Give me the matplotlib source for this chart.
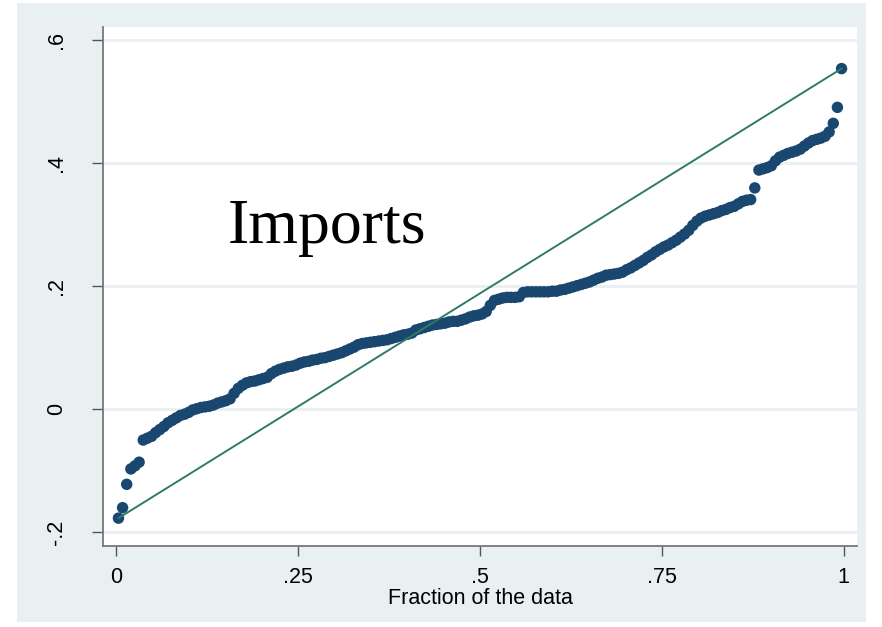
import numpy as np
import matplotlib
matplotlib.use('Agg')
import matplotlib.pyplot as plt
from matplotlib.patches import Rectangle

#Sorted import values
imports = [
    -0.177, -0.160, -0.122, -0.097, -0.092, -0.086, -0.050, -0.047, -0.044, -0.038,
    -0.033, -0.028, -0.022, -0.018, -0.014, -0.010, -0.008, -0.005, -0.001, 0.001,
    0.003, 0.004, 0.005, 0.007, 0.010, 0.012, 0.014, 0.017, 0.026, 0.034,
    0.039, 0.043, 0.045, 0.046, 0.048, 0.050, 0.052, 0.058, 0.062, 0.065,
    0.067, 0.069, 0.070, 0.072, 0.075, 0.077, 0.078, 0.080, 0.081, 0.083,
    0.084, 0.086, 0.088, 0.090, 0.092, 0.095, 0.098, 0.101, 0.105, 0.107,
    0.108, 0.109, 0.110, 0.111, 0.112, 0.113, 0.115, 0.117, 0.119, 0.121,
    0.122, 0.124, 0.129, 0.131, 0.133, 0.135, 0.137, 0.138, 0.139, 0.140,
    0.142, 0.143, 0.143, 0.145, 0.147, 0.150, 0.152, 0.153, 0.155, 0.159,
    0.169, 0.177, 0.179, 0.181, 0.182, 0.182, 0.182, 0.183, 0.190, 0.191,
    0.191, 0.191, 0.191, 0.191, 0.191, 0.192, 0.192, 0.194, 0.195, 0.197,
    0.199, 0.201, 0.203, 0.205, 0.207, 0.210, 0.213, 0.215, 0.218, 0.219,
    0.220, 0.221, 0.223, 0.227, 0.230, 0.234, 0.238, 0.242, 0.247, 0.251,
    0.256, 0.260, 0.264, 0.267, 0.271, 0.275, 0.280, 0.285, 0.291, 0.299,
    0.306, 0.311, 0.314, 0.316, 0.318, 0.320, 0.323, 0.325, 0.328, 0.330,
    0.334, 0.338, 0.340, 0.341, 0.360, 0.389, 0.391, 0.393, 0.396, 0.404,
    0.410, 0.413, 0.416, 0.418, 0.420, 0.423, 0.428, 0.433, 0.437, 0.439,
    0.441, 0.444, 0.451, 0.465, 0.491, 0.554,
]

xticks = [0, 0.25, 0.5, 0.75, 1]
xtick_labels = ['0', '.25', '.5', '.75', '1']
yticks = [-0.2, 0, 0.2, 0.4, 0.6]
ytick_labels = ['-.2', '0', '.2', '.4', '.6']

bg = '#e9f0f2'
navy = '#1a476f'
green = '#2f7b66'


def main():
    y = np.sort(np.array(imports))
    n = len(y)
    #Stata quantile plotting positions
    frac = (np.arange(1, n + 1) - 0.5) / n

    fig = plt.figure(figsize=(8.82, 6.27), dpi=100)
    fig.patches.append(Rectangle((17 / 882, 5 / 627), (866 - 17) / 882, (624 - 5) / 627,
                                 transform=fig.transFigure, facecolor=bg,
                                 edgecolor='none', zorder=-10))

    ax = fig.add_axes([103 / 882, 1 - 546 / 627, (857 - 103) / 882, (546 - 26.6) / 627])
    ax.set_zorder(1)
    ax.set_facecolor('white')

    ax.scatter(frac, y, s=68, color=navy, edgecolors='none', zorder=3)
    ax.plot([frac[0], frac[-1]], [y[0], y[-1]], color=green, lw=1.4, zorder=4)

    ax.set_xlim(-0.0184, 1.0184)
    ax.set_ylim(-0.2223, 0.6223)

    ax.set_xticks(xticks)
    ax.set_xticklabels(xtick_labels, fontsize=15.5, family='Liberation Sans')
    ax.set_yticks(yticks)
    ax.set_yticklabels(ytick_labels, fontsize=15.5, family='Liberation Sans',
                       rotation=90, va='center')
    ax.tick_params(axis='x', length=7, width=1, color='#555555', pad=8)
    ax.tick_params(axis='y', length=8, width=1, color='#555555', pad=18)

    for v in yticks:
        ax.axhline(v, color=bg, lw=2, zorder=1)

    ax.spines['top'].set_visible(False)
    ax.spines['right'].set_visible(False)
    ax.spines['left'].set_color('#777777')
    ax.spines['bottom'].set_color('#777777')
    ax.spines['left'].set_linewidth(1.3)
    ax.spines['bottom'].set_linewidth(1.3)

    ax.set_xlabel('Fraction of the data', fontsize=15.5, family='Liberation Sans', labelpad=0)

    ax.text(0.1535, 0.2704, 'Imports', family='Liberation Serif', fontsize=46,
            ha='left', va='baseline', zorder=5)

    fig.savefig('out.png', dpi=100)


if __name__ == '__main__':
    main()
